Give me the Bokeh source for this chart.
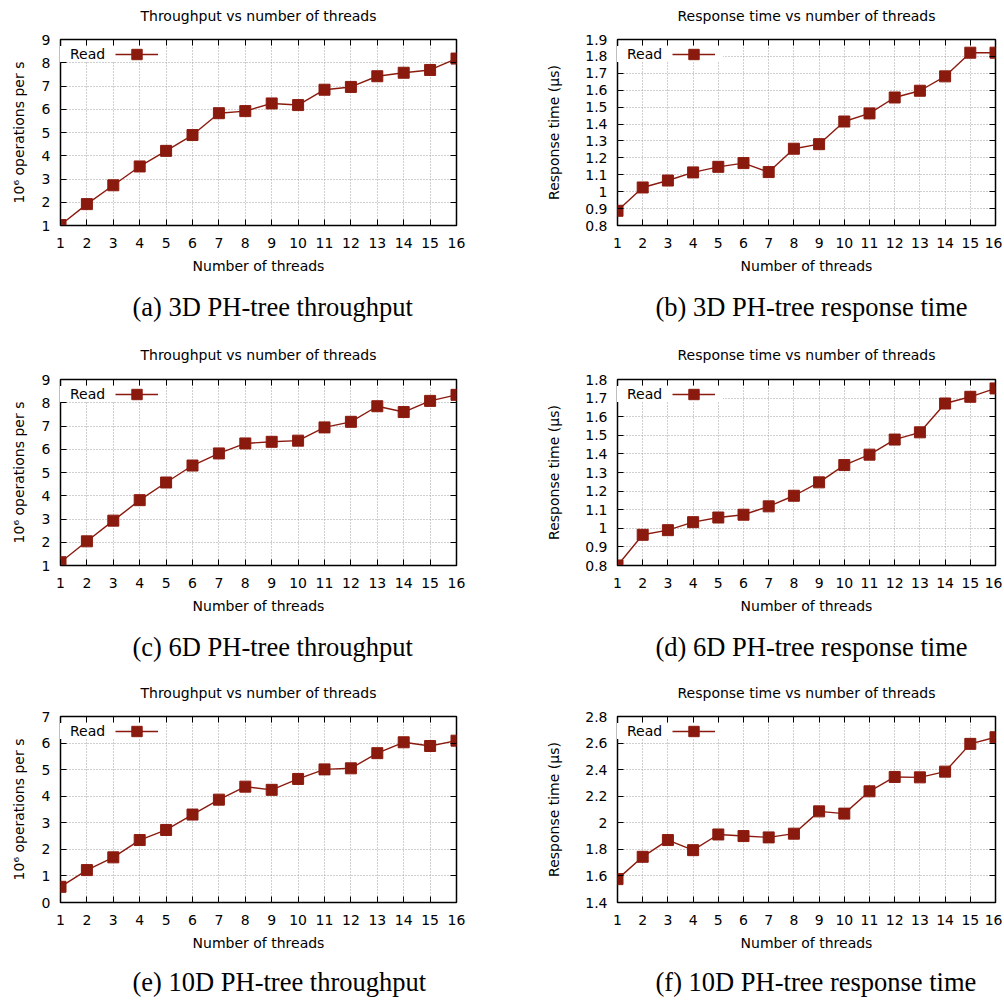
from bokeh.plotting import figure
from bokeh.layouts import row, column
from bokeh.models import (LinearAxis, FixedTicker, Legend, LegendItem, Title,
                          Range1d, NumeralTickFormatter, CustomLabelingPolicy)
from bokeh.embed import file_html
from bokeh.resources import INLINE

# ---------------- data ----------------
threads = [1, 2, 3, 4, 5, 6, 7, 8, 9, 10, 11, 12, 13, 14, 15, 16]

tp_3d = [1.02, 1.92, 2.73, 3.54, 4.21, 4.89, 5.83, 5.92, 6.25, 6.18, 6.84, 6.96, 7.42, 7.57, 7.69, 8.18]
rt_3d = [0.887, 1.025, 1.066, 1.114, 1.147, 1.169, 1.116, 1.254, 1.281, 1.415, 1.463, 1.557, 1.597, 1.682, 1.822, 1.822]

tp_6d = [1.14, 2.04, 2.93, 3.81, 4.57, 5.30, 5.82, 6.25, 6.32, 6.37, 6.94, 7.18, 7.85, 7.60, 8.08, 8.34]
rt_6d = [0.80, 0.965, 0.99, 1.033, 1.058, 1.073, 1.118, 1.175, 1.247, 1.340, 1.396, 1.477, 1.516, 1.671, 1.707, 1.752]

tp_10d = [0.59, 1.22, 1.70, 2.35, 2.73, 3.31, 3.87, 4.36, 4.24, 4.65, 5.01, 5.05, 5.62, 6.03, 5.89, 6.09]
rt_10d = [1.576, 1.744, 1.870, 1.794, 1.912, 1.900, 1.890, 1.918, 2.086, 2.069, 2.237, 2.345, 2.342, 2.385, 2.594, 2.644]

tp_ticks_a = [1, 2, 3, 4, 5, 6, 7, 8, 9]
rt_ticks_b = [0.8, 0.9, 1.0, 1.1, 1.2, 1.3, 1.4, 1.5, 1.6, 1.7, 1.8, 1.9]
tp_ticks_c = [1, 2, 3, 4, 5, 6, 7, 8, 9]
rt_ticks_d = [0.8, 0.9, 1.0, 1.1, 1.2, 1.3, 1.4, 1.5, 1.6, 1.7, 1.8]
tp_ticks_e = [0, 1, 2, 3, 4, 5, 6, 7]
rt_ticks_f = [1.4, 1.6, 1.8, 2.0, 2.2, 2.4, 2.6, 2.8]

series_name = "Read"
tp_title = "Throughput vs number of threads"
rt_title = "Response time vs number of threads"
tp_ylabel = "10\u2076 operations per s"
rt_ylabel = "Response time (\u00b5s)"
xlabel = "Number of threads"
captions = ["(a) 3D PH-tree throughput", "(b) 3D PH-tree response time",
            "(c) 6D PH-tree throughput", "(d) 6D PH-tree response time",
            "(e) 10D PH-tree throughput", "(f) 10D PH-tree response time"]

# ---------------- style ----------------
COLOR = "#8b1a0e"
FONT = "DejaVu Sans"
SERIF = "Liberation Serif"
FS = "14px"

panels = [
    dict(y=tp_3d, ticks=tp_ticks_a, title=tp_title, ylabel=tp_ylabel, cap=captions[0]),
    dict(y=rt_3d, ticks=rt_ticks_b, title=rt_title, ylabel=rt_ylabel, cap=captions[1]),
    dict(y=tp_6d, ticks=tp_ticks_c, title=tp_title, ylabel=tp_ylabel, cap=captions[2]),
    dict(y=rt_6d, ticks=rt_ticks_d, title=rt_title, ylabel=rt_ylabel, cap=captions[3]),
    dict(y=tp_10d, ticks=tp_ticks_e, title=tp_title, ylabel=tp_ylabel, cap=captions[4]),
    dict(y=rt_10d, ticks=rt_ticks_f, title=rt_title, ylabel=rt_ylabel, cap=captions[5]),
]

# column geometry: width, left border, right border, caption offset, ylabel standoff
cols = [dict(w=490, l=60, r=34, cap_off=72, ylab_so=12),
        dict(w=512, l=127, r=7, cap_off=38, ylab_so=20)]
# row geometry: height, top border, bottom border, title gap, caption gap
rows = [dict(h=340, t=39, b=115, tgap=4, gap=3),
        dict(h=338, t=39, b=113, tgap=5, gap=3),
        dict(h=322, t=38, b=98, tgap=4, gap=1)]
FRAME_H = 186

NO_LABELS = "for (const i of indices) indices.unset(i); return indices"


def style_axis(ax):
    ax.major_tick_in = 6
    ax.major_tick_out = 0
    ax.minor_tick_in = 0
    ax.minor_tick_out = 0
    ax.major_tick_line_color = "black"
    ax.major_tick_line_width = 1
    ax.axis_line_color = None
    ax.major_label_text_font = FONT
    ax.major_label_text_font_size = FS
    ax.major_label_text_color = "black"
    ax.axis_label_text_font = FONT
    ax.axis_label_text_font_size = FS
    ax.axis_label_text_font_style = "normal"
    ax.axis_label_text_color = "black"


def unlabeled_axis(ticker, reserve_font, standoff, ticks=True):
    # axis whose labels are never drawn; the hidden labels only reserve space
    ax = LinearAxis(ticker=ticker)
    style_axis(ax)
    if not ticks:
        ax.major_tick_in = 0
        ax.major_tick_line_color = None
    ax.major_label_policy = CustomLabelingPolicy(code=NO_LABELS)
    ax.major_label_text_font_size = reserve_font
    ax.major_label_standoff = standoff
    ax.axis_label = None
    return ax


def make(i):
    pc = panels[i]
    cg = cols[i % 2]
    rg = rows[i // 2]
    yt = pc["ticks"]
    p = figure(width=cg["w"], height=rg["h"],
               x_range=Range1d(threads[0], threads[-1]),
               y_range=Range1d(yt[0], yt[-1]),
               output_backend="svg", toolbar_location=None,
               min_border_left=cg["l"], min_border_right=cg["r"],
               min_border_top=rg["t"], min_border_bottom=rg["b"])
    p.title.text = pc["title"]
    p.title.align = "center"
    p.title.text_font = FONT
    p.title.text_font_size = FS
    p.title.text_font_style = "normal"
    p.title.text_color = "black"
    p.title.standoff = 2

    xt = FixedTicker(ticks=threads)
    ytk = FixedTicker(ticks=yt)
    fmt = NumeralTickFormatter(format="0.[0]")

    xa = p.xaxis[0]
    xa.ticker = xt
    xa.axis_label = xlabel
    style_axis(xa)
    xa.major_label_standoff = 12
    xa.axis_label_standoff = 7

    ya = p.yaxis[0]
    ya.ticker = ytk
    ya.formatter = fmt
    ya.axis_label = pc["ylabel"]
    style_axis(ya)
    ya.major_label_standoff = 10
    ya.axis_label_standoff = cg["ylab_so"]

    # mirrored ticks on the top and right edges (gnuplot style)
    p.add_layout(unlabeled_axis(xt, "11px", rg["tgap"]), "above")
    p.add_layout(unlabeled_axis(ytk, "1px", 0), "right")
    # space between the x axis label and the caption
    p.add_layout(unlabeled_axis(xt, "9px", rg["gap"], ticks=False), "below")

    p.xgrid.ticker = xt
    p.ygrid.ticker = ytk
    for g in (p.xgrid[0], p.ygrid[0]):
        g.grid_line_color = "#a0a0a0"
        g.grid_line_dash = "1 2"
        g.grid_line_width = 1

    p.outline_line_color = "black"
    p.outline_line_width = 1.5
    p.background_fill_color = "white"
    p.border_fill_color = "white"

    ln = p.line(threads, pc["y"], line_color=COLOR, line_width=1.4)
    sc = p.scatter(threads, pc["y"], marker="square", size=11,
                   fill_color=COLOR, line_color=COLOR)
    dummy = p.scatter([], [], marker="square", size=1, fill_alpha=0, line_alpha=0)

    leg_label = Legend(items=[LegendItem(label=series_name, renderers=[dummy])],
                       location=(0, FRAME_H - 15 - 8), padding=0, margin=0, spacing=0,
                       glyph_width=9, glyph_height=16, label_standoff=1,
                       label_width=96, label_height=16,
                       label_text_font=FONT, label_text_font_size=FS,
                       label_text_color="black",
                       background_fill_color="white", background_fill_alpha=1,
                       border_line_color=None)
    leg_glyph = Legend(items=[LegendItem(label=" ", renderers=[ln, sc])],
                       location=(55, FRAME_H - 15 - 13), padding=0, margin=0, spacing=0,
                       glyph_width=43, glyph_height=26, label_standoff=0,
                       label_width=0, label_height=26,
                       label_text_font=FONT, label_text_font_size=FS,
                       background_fill_alpha=0, border_line_color=None)
    p.add_layout(leg_label, "center")
    p.add_layout(leg_glyph, "center")

    cap = Title(text=pc["cap"], align="left", offset=cg["cap_off"],
                text_font=SERIF, text_font_size="26.5px", text_font_style="normal",
                text_color="black", standoff=0)
    p.add_layout(cap, "below")
    return p


figs = [make(i) for i in range(6)]
layout = column(row(figs[0], figs[1]), row(figs[2], figs[3]), row(figs[4], figs[5]))

open("out.html", "w").write(file_html(layout, INLINE))
